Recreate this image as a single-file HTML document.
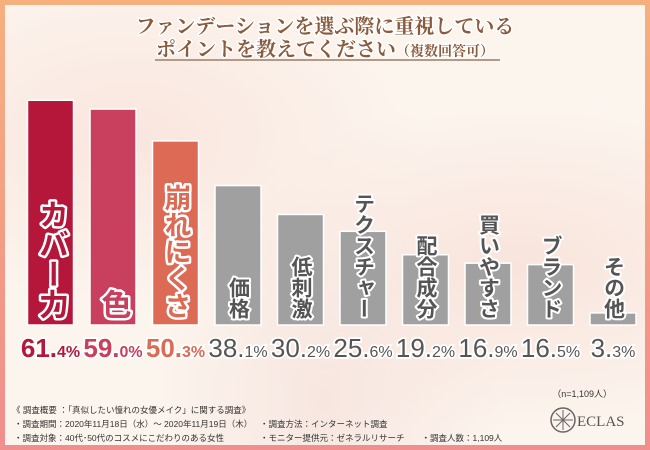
<!DOCTYPE html>
<html><head><meta charset="utf-8"><style>
body{margin:0;width:650px;height:450px;overflow:hidden;font-family:"Liberation Sans","Noto Sans CJK JP",sans-serif}
#frame{position:absolute;left:0;top:0;width:650px;height:450px;background:linear-gradient(#f6b07e,#f39a86 60%,#f18e8e)}
#inner{position:absolute;left:5px;top:5px;width:640px;height:440px;background:radial-gradient(ellipse at 20% 30%,#f9e6de 0,transparent 40%),radial-gradient(ellipse at 80% 60%,#f8e4dc 0,transparent 45%),radial-gradient(ellipse at 50% 90%,#f7e6e0 0,transparent 40%),#fcf5ee}
svg{position:absolute;left:0;top:0}
</style></head><body>
<div id="frame"><div id="inner"></div></div>
<svg width="650" height="450" id="chart">
<text x="325" y="33" text-anchor="middle" font-family="'Liberation Serif','Noto Serif CJK SC',serif" font-size="20" font-weight="bold" fill="#8a5a3c" stroke="#fff" stroke-width="3" paint-order="stroke">ファンデーションを選ぶ際に重視している</text>
<text x="325" y="56" text-anchor="middle" font-family="'Liberation Serif','Noto Serif CJK SC',serif" font-size="20" font-weight="bold" fill="#8a5a3c" stroke="#fff" stroke-width="3" paint-order="stroke">ポイントを教えてください<tspan font-size="14">（複数回答可）</tspan></text>
<line x1="155" y1="60" x2="500" y2="60" stroke="#b09a8a" stroke-width="2"/>
<g id="bars"></g>
<text x="612" y="397" text-anchor="end" font-size="9" fill="#333">（n=1,109人）</text>
<g font-size="8.5" fill="#333">
<text x="12" y="413">《 調査概要 ：「真似したい憧れの女優メイク」に関する調査》</text>
<text x="14" y="427">・調査期間：2020年11月18日（水）～ 2020年11月19日（木）</text>
<text x="14" y="441">・調査対象：40代･50代のコスメにこだわりのある女性</text>
<text x="260" y="427">・調査方法：インターネット調査</text>
<text x="260" y="441">・モニター提供元：ゼネラルリサーチ　　・調査人数：1,109人</text>
</g>
<g>
<circle cx="563" cy="420" r="12" fill="none" stroke="#666" stroke-width="1.5"/>
<path d="M553 420H573M563 410V430M556 413L570 427M570 413L556 427" stroke="#666" stroke-width="1"/>
<text x="577" y="426" font-family="'Liberation Serif',serif" font-size="15" fill="#555">ECLAS</text>
</g>
</svg>
<script>
const categories=["カバー力","色","崩れにくさ","価格","低刺激","テクスチャー","配合成分","買いやすさ","ブランド","その他"];
const values=[61.4,59.0,50.3,38.1,30.2,25.6,19.2,16.9,16.5,3.3];
const colors=["#b5173a","#c8405e","#dc6a55"];
const base=325, scale=3.66, x0=50.5, step=62.5, bw=46;
const ns="http://www.w3.org/2000/svg";
const g=document.getElementById('bars');
function X(i){return x0+i*step;}
function Y(v){return base-v*scale;}
categories.forEach((c,i)=>{
  const v=values[i];
  const col=i<3?colors[i]:"#a0a0a0";
  const r=document.createElementNS(ns,'rect');
  r.setAttribute('x',X(i)-bw/2);r.setAttribute('y',Y(v));r.setAttribute('width',bw);r.setAttribute('height',base-Y(v));
  r.setAttribute('fill',col);r.setAttribute('stroke','#fff');r.setAttribute('stroke-width','1.5');
  
  
  g.appendChild(r);
  const t=document.createElementNS(ns,'text');
  const fs=i<3?(c.length>4?27:30):21;
  t.setAttribute('x',X(i));t.setAttribute('y',base-6);
  t.setAttribute('style','writing-mode:vertical-rl');
  t.setAttribute('text-anchor','end');
  t.setAttribute('font-size',fs);t.setAttribute('font-weight','bold');
  t.setAttribute('fill',i<3?col:'#555');t.setAttribute('stroke','#fff');t.setAttribute('stroke-width',i<3?5:4);
  t.setAttribute('stroke-linejoin','round');t.setAttribute('paint-order','stroke');
  t.textContent=c;
  
  
  g.appendChild(t);
  const vt=document.createElementNS(ns,'text');
  const s=v.toFixed(1).split('.');
  vt.setAttribute('x',X(i));vt.setAttribute('y',357);vt.setAttribute('text-anchor','middle');
  vt.setAttribute('fill',i<3?col:'#555');vt.setAttribute('font-weight',i<3?'bold':'normal');
  vt.setAttribute('stroke','#fff');vt.setAttribute('stroke-width','3.5');vt.setAttribute('paint-order','stroke');
  vt.innerHTML='<tspan font-size="26">'+s[0]+'.</tspan><tspan font-size="16">'+s[1]+'%</tspan>';
  
  
  g.appendChild(vt);
});
</script>
</body></html>
